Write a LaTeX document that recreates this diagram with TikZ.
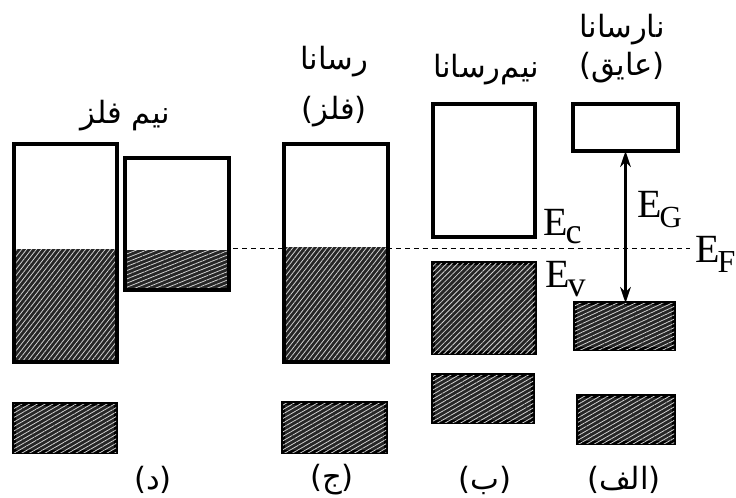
\documentclass[tikz,border=0pt]{standalone}
\usepackage{fontspec}
\setmainfont{Liberation Serif}
\newfontfamily\arabicfont[Script=Arabic]{DejaVu Sans}
\TeXXeTstate=1
\usetikzlibrary{arrows.meta,fit,patterns.meta}

% energy label: E with an upright, lowered subscript
% #1 subscript, #2 its size in pt, #3 how far it drops
\newcommand{\elevel}[3]{E\kern-1.5pt\raisebox{-#3}{\fontsize{#2}{#2}\selectfont #1}}

\tikzset{
  band/.style={draw=black, line width=2.4pt, inner sep=0pt, outer sep=0pt, fill=white},
  hatch/.style={fill=black!85,
    postaction={pattern={Lines[angle=#1,distance=2.9pt,line width=0.6pt]},
                pattern color=white!82!black}},
  hatch/.default=30,
  filled/.style={inner sep=0pt, outer sep=0pt, draw=none, hatch=#1},
  fa/.style={font=\arabicfont\fontsize{23}{26}\selectfont, inner sep=0pt},
  elbl/.style={font=\fontsize{30}{30}\selectfont, inner sep=0pt, anchor=base west},
  level/.style={line width=0.75pt, dash pattern=on 3.8pt off 3pt},
  gap/.style={line width=1.8pt, {Stealth[length=12pt,width=8pt]}-{Stealth[length=12pt,width=8pt]}}
}

\begin{document}
\begin{tikzpicture}[x=0.75pt,y=-0.75pt]
\useasboundingbox (0,0) rectangle (736,497);

% Fermi level
\coordinate (efL) at (233,248);
\coordinate (efR) at (690,248);
\draw[level] (efL) -- (efR);

% (d) semimetal: two overlapping bands
\node[filled=52, fit={(14,249) (117,362)}] (dFillA) {};
\node[band, fill=none, fit={(14,144) (117,362)}] (dBandA) {};
\node[filled=22, fit={(125,250) (229,290)}] (dFillB) {};
\node[band, fill=none, fit={(125,158) (229,290)}] (dBandB) {};
\node[band, hatch=30, fit={(14,404) (116,452)}] (dLow) {};

% (c) metal: partly filled band
\node[filled=52, fit={(284,247) (388,362)}] (cFill) {};
\node[band, fill=none, fit={(284,144) (388,362)}] (cBand) {};
\node[band, hatch=30, fit={(283,403) (386,452)}] (cLow) {};

% (b) semiconductor
\node[band, fit={(433,104) (535,237)}] (bCond) {};
\node[band, hatch=45, fit={(433,263) (535,353)}] (bVal) {};
\node[band, hatch=30, fit={(433,375) (533,422)}] (bLow) {};

% (a) insulator
\node[band, fit={(573,104) (678,151)}] (aCond) {};
\node[band, hatch=25, fit={(575,303) (674,349)}] (aVal) {};
\node[band, hatch=30, fit={(578,396) (674,443)}] (aLow) {};
\draw[gap] (aCond.south) -- (aCond.south |- aVal.north);

% energy labels
\node[elbl] (lEc) at (543,235) {\elevel{c}{27}{6pt}};
\node[elbl] (lEv) at (545,287) {\elevel{v}{27}{7pt}};
\node[elbl] (lEg) at (637,217) {\elevel{G}{23}{7.5pt}};
\node[elbl] (lEf) at (695,262) {\elevel{F}{24}{8pt}};

% titles
\node[fa] (tD) at (125,116) {\beginR نیم فلز\endR};
\node[fa] (tC1) at (334,62) {\beginR رسانا\endR};
\node[fa] (tC2) at (334,112) {\beginR (فلز)\endR};
\node[fa] (tB) at (486,70) {\beginR نیم‌رسانا\endR};
\node[fa] (tA1) at (622,30) {\beginR نارسانا\endR};
\node[fa] (tA2) at (622,68) {\beginR (عایق)\endR};

% panel letters
\node[fa] (pD) at (153,480) {\beginR (د)\endR};
\node[fa] (pC) at (332,480) {\beginR (ج)\endR};
\node[fa] (pB) at (485,480) {\beginR (ب)\endR};
\node[fa] (pA) at (624,480) {\beginR (الف)\endR};
\end{tikzpicture}
\end{document}
